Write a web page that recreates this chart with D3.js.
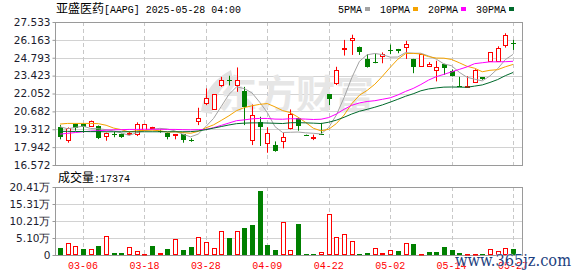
<!DOCTYPE html>
<html>
<head>
<meta charset="utf-8">
<script src="https://cdn.jsdelivr.net/npm/d3@7"></script>
<style>
  body { margin: 0; background: #fff; }
  svg { display: block; }
</style>
</head>
<body>
<svg id="chart" width="578" height="276"></svg>
<script>
// trading days 2025-03-03 .. 2025-05-27
const dates = ['03-03','03-04','03-05','03-06','03-07','03-10','03-11','03-12','03-13','03-14',
  '03-17','03-18','03-19','03-20','03-21','03-24','03-25','03-26','03-27','03-28',
  '03-31','04-01','04-02','04-03','04-04','04-07','04-08','04-09','04-10','04-11',
  '04-14','04-15','04-16','04-17','04-21','04-22','04-23','04-24','04-25','04-28',
  '04-29','04-30','05-01','05-02','05-05','05-06','05-07','05-08','05-09','05-12',
  '05-13','05-14','05-15','05-16','05-19','05-20','05-21','05-22','05-23','05-27'];

const open = [19.50,18.48,19.71,19.71,19.56,19.56,18.79,18.95,18.94,18.95,
  18.94,19.25,19.38,19.20,19.04,18.88,18.94,18.50,19.96,21.29,
  20.83,22.69,23.08,22.69,22.23,18.48,19.84,18.28,18.10,18.43,
  19.38,20.14,18.90,18.61,18.98,22.00,22.82,25.48,26.16,25.65,
  24.71,24.50,24.94,25.40,25.47,25.58,24.71,24.18,24.18,23.88,
  24.33,23.74,22.64,22.56,22.94,23.28,24.55,24.55,25.78,25.94];
const high = [19.63,19.45,19.75,19.75,19.98,19.60,19.05,19.10,18.98,19.10,
  19.84,19.72,19.50,19.28,19.06,18.95,18.96,18.62,20.96,22.44,
  22.00,23.33,23.41,24.05,22.56,21.21,20.27,19.46,18.38,19.04,
  20.83,20.20,18.90,18.90,19.80,22.00,24.10,26.16,26.56,25.65,
  25.07,25.14,25.20,25.80,25.47,26.09,24.71,25.07,24.45,24.56,
  24.33,23.90,23.33,23.38,23.91,23.28,25.20,25.67,26.67,26.16];
const low = [18.54,18.28,19.20,19.04,19.50,18.56,18.43,18.70,18.65,18.85,
  18.79,19.22,19.35,19.05,18.54,18.54,18.28,18.35,19.63,21.16,
  20.80,22.56,22.67,22.18,19.63,18.10,18.03,17.51,17.59,17.85,
  19.30,19.20,18.85,18.48,18.88,21.16,22.70,24.96,25.01,25.01,
  24.04,24.37,24.37,25.07,25.14,24.70,23.61,24.18,24.18,22.98,
  23.48,23.36,22.56,22.56,22.94,23.10,24.55,24.55,25.57,25.39];
const close = [18.69,19.38,19.38,19.45,19.94,18.61,19.00,18.90,18.69,19.00,
  19.68,19.68,19.45,19.10,18.74,18.93,18.45,18.42,20.14,21.67,
  22.00,23.07,23.00,23.07,20.99,20.37,19.50,19.00,17.67,18.74,
  20.48,19.59,18.87,18.68,18.93,21.60,23.89,25.52,26.31,25.27,
  24.12,24.37,25.07,25.35,25.32,25.84,24.12,25.07,24.30,24.12,
  23.99,23.41,22.59,22.62,23.83,23.15,25.20,25.57,26.55,25.89];

const volume = [21800,35000,26900,17900,17000,26900,56800,6000,6000,23000,
  12000,3000,26900,6000,17900,47800,15000,23900,53800,37900,
  20000,71700,51700,71700,81600,89600,191200,29900,14900,97700,
  14000,92600,3000,3000,8000,121600,54700,62700,41800,3000,
  6000,20900,6000,14900,12000,35000,32900,3000,9000,9000,
  23900,14900,6000,3000,3000,3000,17000,12000,20000,17374];
// 1 = red (up on the day), 0 = green
const volUp = [0,1,1,0,1,0,1,0,0,1, 1,1,0,1,0,1,0,0,1,1,
  1,1,0,1,0,0,0,0,0,1, 1,0,0,0,1,1,1,1,1,0,
  0,1,1,1,0,1,0,1,0,0, 0,0,0,1,1,0,1,1,1,0];

const ma5 = [19.50,19.35,19.45,19.55,19.37,19.35,19.28,19.18,19.03,18.84,
  19.05,19.19,19.30,19.38,19.33,19.18,18.93,18.73,18.94,19.52,
  20.14,21.06,21.98,22.56,22.43,22.10,21.39,20.59,19.51,19.06,
  19.08,19.10,19.04,19.00,18.95,19.45,20.41,21.74,23.26,24.52,
  25.02,25.12,25.03,24.84,24.85,25.19,25.14,25.14,24.93,24.69,
  24.32,24.18,23.68,23.30,23.15,23.02,23.40,23.95,24.65,25.05];
const ma10 = [19.71,19.76,19.76,19.76,19.76,19.74,19.62,19.40,19.28,19.10,
  19.20,19.23,19.24,19.20,19.09,19.12,19.06,19.00,19.15,19.42,
  19.65,19.99,20.34,20.74,20.97,21.11,21.22,21.28,21.03,20.74,
  20.59,20.24,19.83,19.39,19.19,19.31,19.75,20.40,21.27,21.92,
  22.29,22.76,23.38,24.05,24.68,25.11,25.13,25.08,24.88,24.77,
  24.76,24.66,24.41,24.14,23.99,23.72,23.83,23.88,24.10,24.28];
const ma20 = [18.94,19.00,19.06,19.12,19.17,19.20,19.24,19.27,19.28,19.30,
  19.30,19.31,19.31,19.31,19.30,19.30,19.28,19.27,19.28,19.30,
  19.43,19.61,19.79,19.97,20.03,20.11,20.14,20.14,20.09,20.08,
  20.12,20.11,20.09,20.06,20.08,20.21,20.48,20.84,21.15,21.33,
  21.44,21.50,21.61,21.72,21.94,22.21,22.44,22.74,23.08,23.34,
  23.52,23.71,23.90,24.09,24.34,24.41,24.48,24.48,24.49,24.52];
const ma30 = [19.15,19.15,19.14,19.14,19.13,19.13,19.12,19.12,19.12,19.12,
  19.12,19.12,19.12,19.12,19.12,19.12,19.12,19.13,19.18,19.28,
  19.40,19.52,19.64,19.74,19.78,19.80,19.80,19.79,19.77,19.75,
  19.81,19.82,19.80,19.78,19.75,19.85,20.01,20.23,20.48,20.69,
  20.84,21.00,21.18,21.39,21.61,21.84,22.03,22.26,22.40,22.48,
  22.54,22.55,22.54,22.53,22.62,22.71,22.90,23.12,23.42,23.66];

const priceTicks = [27.533,26.163,24.793,23.423,22.052,20.682,19.312,17.942,16.572];
const volTicks = [204100,153075,102050,51025,0];
const volTickLabels = ['20.41万','15.31万','10.21万','5.10万','0'];
const xTicks = ['03-06','03-18','03-28','04-09','04-22','05-02','05-14','05-27'];

const maSeries = [
  { name: '5PMA', values: ma5, color: '#a3a3a3' },
  { name: '10PMA', values: ma10, color: '#f5a300' },
  { name: '20PMA', values: ma20, color: '#ff00ff' },
  { name: '30PMA', values: ma30, color: '#006a2c' }
];

const RED = '#ff0000', GREEN = '#008000';
const pLeft = 55, pRight = 522, pTop = 22, pMid = 165, vTop = 187, vBot = 255;

const svg = d3.select('#chart');
const x = d3.scalePoint().domain(dates).range([60, 513]);
const y = d3.scaleLinear().domain([16.572, 27.533]).range([pMid, pTop]);
const vy = d3.scaleLinear().domain([0, 204100]).range([vBot, vTop]);
const px = d => Math.round(d) + 0.5;

// grid
const grid = svg.append('g');
grid.selectAll('.hp').data(priceTicks).enter().append('line')
  .attr('x1', pLeft).attr('x2', pRight)
  .attr('y1', d => px(y(d))).attr('y2', d => px(y(d)))
  .attr('stroke', '#d2d2d2');
grid.selectAll('.hv').data(volTicks).enter().append('line')
  .attr('x1', pLeft).attr('x2', pRight)
  .attr('y1', d => px(vy(d))).attr('y2', d => px(vy(d)))
  .attr('stroke', '#d2d2d2');
xTicks.forEach(t => {
  [[pTop, pMid], [vTop, vBot]].forEach(r => {
    grid.append('line')
      .attr('x1', px(x(t))).attr('x2', px(x(t)))
      .attr('y1', r[0]).attr('y2', r[1])
      .attr('stroke', '#c8c8c8').attr('stroke-dasharray', '4,3');
  });
});

// watermark
const wm = svg.append('g');
wm.append('path')
  .attr('d', 'M201,112 C203,95 212,80 231,70 L233,79 C221,86 214,98 212,114 Z')
  .attr('fill', '#e2e2e2');
wm.append('text').attr('x', 218).attr('y', 108)
  .attr('font-family', 'Noto Sans CJK SC').attr('font-weight', 'bold')
  .attr('font-size', 39).attr('fill', '#e6e6e6')
  .text('东方财富');

// frames
[[pTop, pMid], [vTop, vBot]].forEach(r => {
  svg.append('rect')
    .attr('x', pLeft + 0.5).attr('y', r[0] + 0.5)
    .attr('width', pRight - pLeft).attr('height', r[1] - r[0])
    .attr('fill', 'none').attr('stroke', '#9a9a9a');
});

// axes
const axisFont = g => {
  g.select('.domain').remove();
  g.selectAll('.tick line').attr('stroke', '#9a9a9a');
  g.selectAll('.tick text').attr('fill', '#1c1c2e')
    .attr('font-family', 'DejaVu Sans').attr('font-size', '10.5px');
};
svg.append('g').attr('transform', `translate(${pLeft + 0.5},0)`)
  .call(d3.axisLeft(y).tickValues(priceTicks).tickSize(3).tickPadding(2)
    .tickFormat(d => d.toFixed(3)))
  .call(axisFont);
svg.append('g').attr('transform', `translate(${pLeft + 0.5},0)`)
  .call(d3.axisLeft(vy).tickValues(volTicks).tickSize(3).tickPadding(2)
    .tickFormat((d, i) => volTickLabels[i]))
  .call(axisFont);

svg.selectAll('.xl').data(xTicks).enter().append('text')
  .attr('x', d => x(d)).attr('y', 269)
  .attr('text-anchor', 'middle')
  .attr('font-family', 'Liberation Mono').attr('font-size', '11px')
  .attr('textLength', 30).attr('lengthAdjust', 'spacingAndGlyphs')
  .attr('fill', RED).text(d => d);

// candles
const candles = svg.append('g');
dates.forEach((d, i) => {
  const cx = px(x(d));
  const up = close[i] >= open[i];
  const c = up ? RED : GREEN;
  candles.append('line')
    .attr('x1', cx).attr('x2', cx)
    .attr('y1', y(high[i])).attr('y2', y(low[i]))
    .attr('stroke', c);
  const yt = Math.round(y(Math.max(open[i], close[i])));
  const yb = Math.round(y(Math.min(open[i], close[i])));
  if (up) {
    candles.append('rect')
      .attr('x', cx - 2).attr('y', yt + 0.5)
      .attr('width', 4).attr('height', Math.max(yb - yt, 1))
      .attr('fill', '#fff').attr('stroke', RED);
  } else {
    candles.append('rect')
      .attr('x', cx - 2.5).attr('y', yt)
      .attr('width', 5).attr('height', Math.max(yb - yt, 1))
      .attr('fill', GREEN);
  }
});

// moving averages
const line = d3.line().x((v, i) => x(dates[i])).y(v => y(v));
maSeries.forEach(s => {
  svg.append('path').datum(s.values)
    .attr('d', line).attr('fill', 'none')
    .attr('stroke', s.color).attr('stroke-width', 1);
});

// volume bars
const vols = svg.append('g');
dates.forEach((d, i) => {
  const cx = px(x(d));
  const yt = Math.round(vy(volume[i]));
  const h = Math.max(vBot - yt, 1);
  if (volUp[i]) {
    vols.append('rect')
      .attr('x', cx - 2).attr('y', yt + 0.5)
      .attr('width', 4).attr('height', Math.max(h - 1, 0.5))
      .attr('fill', '#fff').attr('stroke', RED);
  } else {
    vols.append('rect')
      .attr('x', cx - 2.5).attr('y', yt)
      .attr('width', 5).attr('height', h)
      .attr('fill', GREEN);
  }
});

// title, legend, volume caption
const title = svg.append('text').attr('x', 56).attr('y', 13).attr('fill', '#000');
title.append('tspan').attr('font-family', 'Noto Sans CJK SC').attr('font-size', '12px').text('亚盛医药');
title.append('tspan').attr('x', 104).attr('font-family', 'Liberation Mono').attr('font-size', '11px')
  .attr('textLength', 137).attr('lengthAdjust', 'spacingAndGlyphs')
  .text('[AAPG] 2025-05-28 04:00');

let lx = 338;
maSeries.forEach(s => {
  const w = s.name.length * 6;
  svg.append('text').attr('x', lx).attr('y', 13)
    .attr('font-family', 'Liberation Mono').attr('font-size', '11px')
    .attr('textLength', w).attr('lengthAdjust', 'spacingAndGlyphs')
    .attr('fill', '#000').text(s.name);
  svg.append('rect').attr('x', lx + w + 3).attr('y', 7)
    .attr('width', 5).attr('height', 4).attr('fill', s.color);
  lx += w + 3 + 5 + 10;
});

const cap = svg.append('text').attr('x', 58).attr('y', 182).attr('fill', '#000');
cap.append('tspan').attr('font-family', 'Noto Sans CJK SC').attr('font-size', '12px').text('成交量');
cap.append('tspan').attr('x', 94).attr('font-family', 'Liberation Mono').attr('font-size', '11px')
  .attr('textLength', 36).attr('lengthAdjust', 'spacingAndGlyphs')
  .text(':' + volume[volume.length - 1]);

// site watermark
svg.append('text').attr('x', 455).attr('y', 266)
  .attr('font-family', 'DejaVu Serif').attr('font-size', '17px')
  .attr('textLength', 116).attr('lengthAdjust', 'spacingAndGlyphs')
  .attr('fill', '#1d3f80').attr('stroke', '#fff').attr('stroke-width', 0.6)
  .attr('paint-order', 'stroke')
  .text('www.365jz.com');
</script>
</body>
</html>
